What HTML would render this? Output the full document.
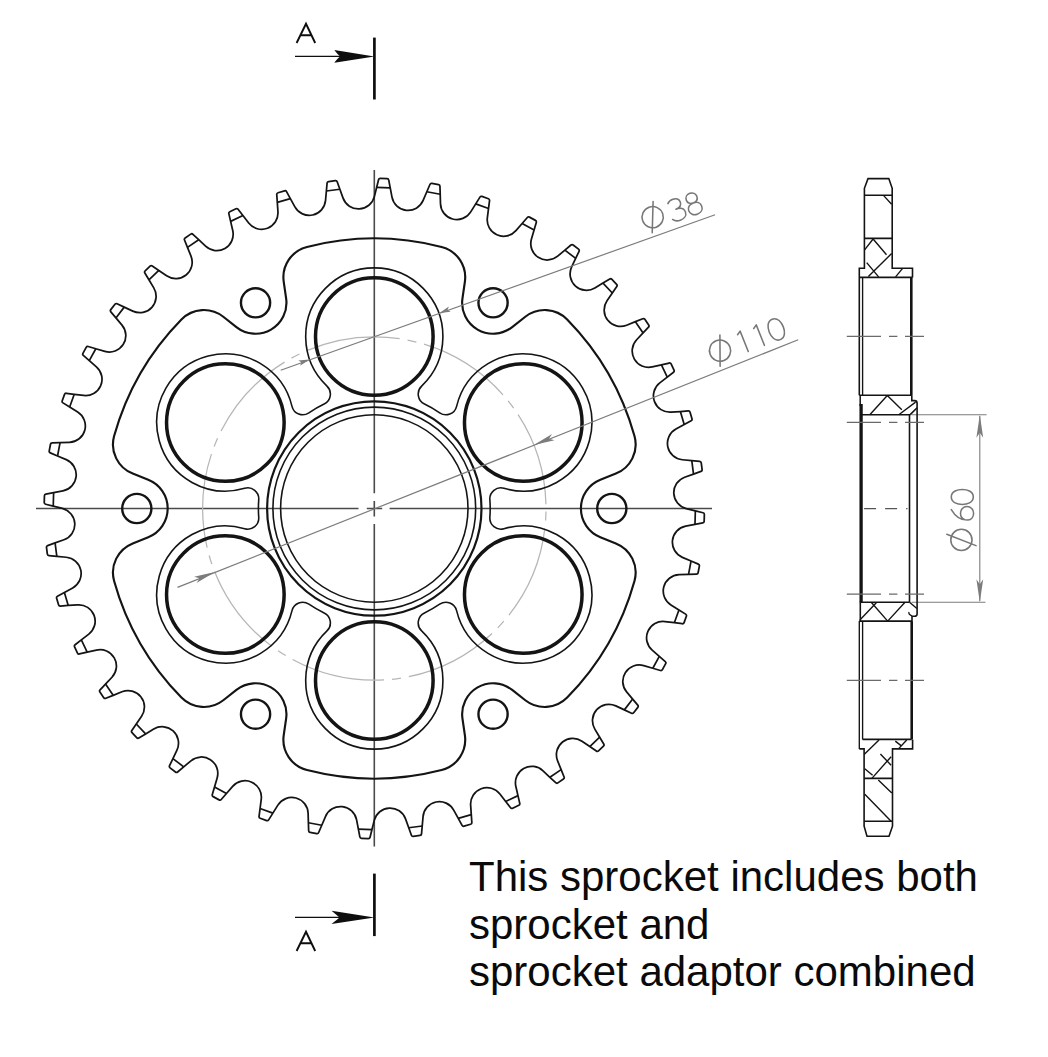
<!DOCTYPE html>
<html><head><meta charset="utf-8">
<style>
html,body{margin:0;padding:0;background:#fff;}
body{width:1048px;height:1057px;overflow:hidden;position:relative;}
svg{position:absolute;left:0;top:0;}
.t{position:absolute;left:469px;font-family:"Liberation Sans",sans-serif;font-size:42px;color:#0a0a0a;white-space:nowrap;line-height:1;}
</style></head>
<body>
<svg width="1048" height="1057" viewBox="0 0 1048 1057">
<path d="M374.3 170 V493.2 M374.3 500.9 V516.6 M374.3 524 V846.4 M36 508.5 H358.5 M366.8 508.5 H382.2 M389.6 508.5 H712" stroke="#4a4a4a" stroke-width="1.6" fill="none"/>
<circle cx="374.3" cy="508.5" r="171.7" stroke="#b6b6b6" stroke-width="1.25" fill="none" stroke-dasharray="94.9 8 9 8" stroke-dashoffset="99.9"/>
<path d="M686.21 508.55L695.36 510.83L703.04 512.75Q704.4 513.09 704.36 514.49L704.17 521.29Q704.13 522.69 702.75 522.95L694.98 524.43L685.7 526.19A16.37 16.37 0 0 0 682.36 557.34L691.05 561.03L698.33 564.13Q699.62 564.67 699.36 566.05L698.11 572.73Q697.85 574.11 696.45 574.15L688.54 574.4L679.1 574.69A16.37 16.37 0 0 0 670.93 604.93L678.93 609.93L685.64 614.13Q686.83 614.87 686.36 616.19L684.07 622.6Q683.6 623.92 682.21 623.74L674.36 622.74L665 621.55A16.37 16.37 0 0 0 652.19 650.14L659.31 656.34L665.28 661.54Q666.34 662.45 665.67 663.68L662.41 669.65Q661.74 670.88 660.4 670.49L652.79 668.28L643.73 665.64A16.37 16.37 0 0 0 626.61 691.87L632.67 699.1L637.76 705.17Q638.66 706.24 637.81 707.35L633.65 712.74Q632.8 713.85 631.53 713.25L624.37 709.88L615.83 705.85A16.37 16.37 0 0 0 594.82 729.08L599.68 737.18L603.75 743.96Q604.47 745.16 603.45 746.13L598.51 750.8Q597.49 751.76 596.34 750.97L589.79 746.52L581.99 741.21A16.37 16.37 0 0 0 557.6 760.86L561.13 769.62L564.09 776.96Q564.61 778.26 563.46 779.05L557.85 782.89Q556.69 783.68 555.67 782.72L549.9 777.3L543.03 770.83A16.37 16.37 0 0 0 515.86 786.43L517.98 795.63L519.76 803.34Q520.07 804.71 518.81 805.31L512.66 808.22Q511.4 808.82 510.54 807.71L505.69 801.46L499.91 793.99A16.37 16.37 0 0 0 470.64 805.15L471.29 814.57L471.84 822.47Q471.94 823.87 470.6 824.26L464.07 826.18Q462.73 826.57 462.06 825.34L458.25 818.4L453.7 810.13A16.37 16.37 0 0 0 423.05 816.57L422.22 825.98L421.53 833.86Q421.4 835.26 420.02 835.44L413.27 836.31Q411.88 836.49 411.41 835.17L408.73 827.72L405.54 818.84A16.37 16.37 0 0 0 374.25 820.41L371.97 829.56L370.05 837.24Q369.71 838.6 368.31 838.56L361.51 838.37Q360.11 838.33 359.85 836.95L358.37 829.18L356.61 819.9A16.37 16.37 0 0 0 325.46 816.56L321.77 825.25L318.67 832.53Q318.13 833.82 316.75 833.56L310.07 832.31Q308.69 832.05 308.65 830.65L308.4 822.74L308.11 813.3A16.37 16.37 0 0 0 277.87 805.13L272.87 813.13L268.67 819.84Q267.93 821.03 266.61 820.56L260.2 818.27Q258.88 817.8 259.06 816.41L260.06 808.56L261.25 799.2A16.37 16.37 0 0 0 232.66 786.39L226.46 793.51L221.26 799.48Q220.35 800.54 219.12 799.87L213.15 796.61Q211.92 795.94 212.31 794.6L214.52 786.99L217.16 777.93A16.37 16.37 0 0 0 190.93 760.81L183.7 766.87L177.63 771.96Q176.56 772.86 175.45 772.01L170.06 767.85Q168.95 767 169.55 765.73L172.92 758.57L176.95 750.03A16.37 16.37 0 0 0 153.72 729.02L145.62 733.88L138.84 737.95Q137.64 738.67 136.67 737.65L132 732.71Q131.04 731.69 131.83 730.54L136.28 723.99L141.59 716.19A16.37 16.37 0 0 0 121.94 691.8L113.18 695.33L105.84 698.29Q104.54 698.81 103.75 697.66L99.91 692.05Q99.12 690.89 100.08 689.87L105.5 684.1L111.97 677.23A16.37 16.37 0 0 0 96.37 650.06L87.17 652.18L79.46 653.96Q78.09 654.27 77.49 653.01L74.58 646.86Q73.98 645.6 75.09 644.74L81.34 639.89L88.81 634.11A16.37 16.37 0 0 0 77.65 604.84L68.23 605.49L60.33 606.04Q58.93 606.14 58.54 604.8L56.62 598.27Q56.23 596.93 57.46 596.26L64.4 592.45L72.67 587.9A16.37 16.37 0 0 0 66.23 557.25L56.82 556.42L48.94 555.73Q47.54 555.6 47.36 554.22L46.49 547.47Q46.31 546.08 47.63 545.61L55.08 542.93L63.96 539.74A16.37 16.37 0 0 0 62.39 508.45L53.24 506.17L45.56 504.25Q44.2 503.91 44.24 502.51L44.43 495.71Q44.47 494.31 45.85 494.05L53.62 492.57L62.9 490.81A16.37 16.37 0 0 0 66.24 459.66L57.55 455.97L50.27 452.87Q48.98 452.33 49.24 450.95L50.49 444.27Q50.75 442.89 52.15 442.85L60.06 442.6L69.5 442.31A16.37 16.37 0 0 0 77.67 412.07L69.67 407.07L62.96 402.87Q61.77 402.13 62.24 400.81L64.53 394.4Q65 393.08 66.39 393.26L74.24 394.26L83.6 395.45A16.37 16.37 0 0 0 96.41 366.86L89.29 360.66L83.32 355.46Q82.26 354.55 82.93 353.32L86.19 347.35Q86.86 346.12 88.2 346.51L95.81 348.72L104.87 351.36A16.37 16.37 0 0 0 121.99 325.13L115.93 317.9L110.84 311.83Q109.94 310.76 110.79 309.65L114.95 304.26Q115.8 303.15 117.07 303.75L124.23 307.12L132.77 311.15A16.37 16.37 0 0 0 153.78 287.92L148.92 279.82L144.85 273.04Q144.13 271.84 145.15 270.87L150.09 266.2Q151.11 265.24 152.26 266.03L158.81 270.48L166.61 275.79A16.37 16.37 0 0 0 191 256.14L187.47 247.38L184.51 240.04Q183.99 238.74 185.14 237.95L190.75 234.11Q191.91 233.32 192.93 234.28L198.7 239.7L205.57 246.17A16.37 16.37 0 0 0 232.74 230.57L230.62 221.37L228.84 213.66Q228.53 212.29 229.79 211.69L235.94 208.78Q237.2 208.18 238.06 209.29L242.91 215.54L248.69 223.01A16.37 16.37 0 0 0 277.96 211.85L277.31 202.43L276.76 194.53Q276.66 193.13 278 192.74L284.53 190.82Q285.87 190.43 286.54 191.66L290.35 198.6L294.9 206.87A16.37 16.37 0 0 0 325.55 200.43L326.38 191.02L327.07 183.14Q327.2 181.74 328.58 181.56L335.33 180.69Q336.72 180.51 337.19 181.83L339.87 189.28L343.06 198.16A16.37 16.37 0 0 0 374.35 196.59L376.63 187.44L378.55 179.76Q378.89 178.4 380.29 178.44L387.09 178.63Q388.49 178.67 388.75 180.05L390.23 187.82L391.99 197.1A16.37 16.37 0 0 0 423.14 200.44L426.83 191.75L429.93 184.47Q430.47 183.18 431.85 183.44L438.53 184.69Q439.91 184.95 439.95 186.35L440.2 194.26L440.49 203.7A16.37 16.37 0 0 0 470.73 211.87L475.73 203.87L479.93 197.16Q480.67 195.97 481.99 196.44L488.4 198.73Q489.72 199.2 489.54 200.59L488.54 208.44L487.35 217.8A16.37 16.37 0 0 0 515.94 230.61L522.14 223.49L527.34 217.52Q528.25 216.46 529.48 217.13L535.45 220.39Q536.68 221.06 536.29 222.4L534.08 230.01L531.44 239.07A16.37 16.37 0 0 0 557.67 256.19L564.9 250.13L570.97 245.04Q572.04 244.14 573.15 244.99L578.54 249.15Q579.65 250 579.05 251.27L575.68 258.43L571.65 266.97A16.37 16.37 0 0 0 594.88 287.98L602.98 283.12L609.76 279.05Q610.96 278.33 611.93 279.35L616.6 284.29Q617.56 285.31 616.77 286.46L612.32 293.01L607.01 300.81A16.37 16.37 0 0 0 626.66 325.2L635.42 321.67L642.76 318.71Q644.06 318.19 644.85 319.34L648.69 324.95Q649.48 326.11 648.52 327.13L643.1 332.9L636.63 339.77A16.37 16.37 0 0 0 652.23 366.94L661.43 364.82L669.14 363.04Q670.51 362.73 671.11 363.99L674.02 370.14Q674.62 371.4 673.51 372.26L667.26 377.11L659.79 382.89A16.37 16.37 0 0 0 670.95 412.16L680.37 411.51L688.27 410.96Q689.67 410.86 690.06 412.2L691.98 418.73Q692.37 420.07 691.14 420.74L684.2 424.55L675.93 429.1A16.37 16.37 0 0 0 682.37 459.75L691.78 460.58L699.66 461.27Q701.06 461.4 701.24 462.78L702.11 469.53Q702.29 470.92 700.97 471.39L693.52 474.07L684.64 477.26A16.37 16.37 0 0 0 686.21 508.55 Z" stroke="#141414" stroke-width="1.75" fill="none" stroke-linejoin="round"/>
<path d="M695.36 510.83L694.98 524.43M691.05 561.03L688.54 574.4M678.93 609.93L674.36 622.74M659.31 656.34L652.79 668.28M632.67 699.1L624.37 709.88M599.68 737.18L589.79 746.52M561.13 769.62L549.9 777.3M517.98 795.63L505.69 801.46M471.29 814.57L458.25 818.4M422.22 825.98L408.73 827.72M371.97 829.56L358.37 829.18M321.77 825.25L308.4 822.74M272.87 813.13L260.06 808.56M226.46 793.51L214.52 786.99M183.7 766.87L172.92 758.57M145.62 733.88L136.28 723.99M113.18 695.33L105.5 684.1M87.17 652.18L81.34 639.89M68.23 605.49L64.4 592.45M56.82 556.42L55.08 542.93M53.24 506.17L53.62 492.57M57.55 455.97L60.06 442.6M69.67 407.07L74.24 394.26M89.29 360.66L95.81 348.72M115.93 317.9L124.23 307.12M148.92 279.82L158.81 270.48M187.47 247.38L198.7 239.7M230.62 221.37L242.91 215.54M277.31 202.43L290.35 198.6M326.38 191.02L339.87 189.28M376.63 187.44L390.23 187.82M426.83 191.75L440.2 194.26M475.73 203.87L488.54 208.44M522.14 223.49L534.08 230.01M564.9 250.13L575.68 258.43M602.98 283.12L612.32 293.01M635.42 321.67L643.1 332.9M661.43 364.82L667.26 377.11M680.37 411.51L684.2 424.55M691.78 460.58L693.52 474.07" stroke="#141414" stroke-width="1.7" fill="none"/>
<path d="M600.36 537.2L615.87 543.39A31.4 31.4 0 0 1 634.49 580.98A270.1 270.1 0 0 1 567.17 697.59A31.4 31.4 0 0 1 525.3 700.26L512.19 689.92A30.9 30.9 0 0 0 462.47 718.63L464.87 735.15A31.4 31.4 0 0 1 441.63 770.07A270.1 270.1 0 0 1 306.97 770.07A31.4 31.4 0 0 1 283.73 735.15L286.13 718.63A30.9 30.9 0 0 0 236.41 689.92L223.3 700.26A31.4 31.4 0 0 1 181.43 697.59A270.1 270.1 0 0 1 114.11 580.98A31.4 31.4 0 0 1 132.73 543.39L148.24 537.2A30.9 30.9 0 0 0 148.24 479.8L132.73 473.61A31.4 31.4 0 0 1 114.11 436.02A270.1 270.1 0 0 1 181.43 319.41A31.4 31.4 0 0 1 223.3 316.74L236.41 327.08A30.9 30.9 0 0 0 286.13 298.37L283.73 281.85A31.4 31.4 0 0 1 306.97 246.93A270.1 270.1 0 0 1 441.63 246.93A31.4 31.4 0 0 1 464.87 281.85L462.47 298.37A30.9 30.9 0 0 0 512.19 327.08L525.3 316.74A31.4 31.4 0 0 1 567.17 319.41A270.1 270.1 0 0 1 634.49 436.02A31.4 31.4 0 0 1 615.87 473.61L600.36 479.8A30.9 30.9 0 0 0 600.36 537.2 Z" stroke="#141414" stroke-width="2.15" fill="none"/>
<circle cx="611.8" cy="508.5" r="14.6" stroke="#141414" stroke-width="2.4" fill="none"/>
<circle cx="493.05" cy="714.18" r="14.6" stroke="#141414" stroke-width="2.4" fill="none"/>
<circle cx="255.55" cy="714.18" r="14.6" stroke="#141414" stroke-width="2.4" fill="none"/>
<circle cx="136.8" cy="508.5" r="14.6" stroke="#141414" stroke-width="2.4" fill="none"/>
<circle cx="255.55" cy="302.82" r="14.6" stroke="#141414" stroke-width="2.4" fill="none"/>
<circle cx="493.05" cy="302.82" r="14.6" stroke="#141414" stroke-width="2.4" fill="none"/>
<path d="M489.87 517.29A11 11 0 0 0 503.93 528.68A68.6 68.6 0 1 1 456.59 610.68A11 11 0 0 0 439.69 604.19A115.9 115.9 0 0 1 424.47 612.98A11 11 0 0 0 421.64 630.85A68.6 68.6 0 1 1 326.96 630.85A11 11 0 0 0 324.13 612.98A115.9 115.9 0 0 1 308.91 604.19A11 11 0 0 0 292.01 610.68A68.6 68.6 0 1 1 244.67 528.68A11 11 0 0 0 258.73 517.29A115.9 115.9 0 0 1 258.73 499.71A11 11 0 0 0 244.67 488.32A68.6 68.6 0 1 1 292.01 406.32A11 11 0 0 0 308.91 412.81A115.9 115.9 0 0 1 324.13 404.02A11 11 0 0 0 326.96 386.15A68.6 68.6 0 1 1 421.64 386.15A11 11 0 0 0 424.47 404.02A115.9 115.9 0 0 1 439.69 412.81A11 11 0 0 0 456.59 406.32A68.6 68.6 0 1 1 503.93 488.32A11 11 0 0 0 489.87 499.71A115.9 115.9 0 0 1 489.87 517.29 Z" stroke="#141414" stroke-width="1.6" fill="none"/>
<circle cx="523.26" cy="594.5" r="58.8" stroke="#141414" stroke-width="3.5" fill="none"/>
<circle cx="374.3" cy="680.5" r="58.8" stroke="#141414" stroke-width="3.5" fill="none"/>
<circle cx="225.34" cy="594.5" r="58.8" stroke="#141414" stroke-width="3.5" fill="none"/>
<circle cx="225.34" cy="422.5" r="58.8" stroke="#141414" stroke-width="3.5" fill="none"/>
<circle cx="374.3" cy="336.5" r="58.8" stroke="#141414" stroke-width="3.5" fill="none"/>
<circle cx="523.26" cy="422.5" r="58.8" stroke="#141414" stroke-width="3.5" fill="none"/>
<circle cx="374.3" cy="508.5" r="107.2" stroke="#141414" stroke-width="2.2" fill="none"/>
<circle cx="374.3" cy="508.5" r="101.4" stroke="#141414" stroke-width="1.6" fill="none"/>
<circle cx="374.3" cy="508.5" r="93.7" stroke="#141414" stroke-width="1.6" fill="none"/>
<path d="M280.7 370.2L715.1 214.7" stroke="#7c7c7c" stroke-width="1.2" fill="none"/>
<path d="M309.54 359.46L300.13 365.8L301.46 362.35L298.24 360.53Z" fill="#7c7c7c"/>
<path d="M439.46 312.94L448.87 306.6L447.54 310.05L450.76 311.87Z" fill="#7c7c7c"/>
<path d="M177.5 587.4L798.2 339.8" stroke="#7c7c7c" stroke-width="1.2" fill="none"/>
<path d="M214.82 572.12L196.54 582.97L199.61 578.19L194.1 576.84Z" fill="#7c7c7c"/>
<path d="M533.78 444.88L552.06 434.03L548.99 438.81L554.5 440.16Z" fill="#7c7c7c"/>
<g transform="translate(374.5 336.2) rotate(-19.7)" stroke="#777777" stroke-width="1.55" fill="none" stroke-linecap="round" stroke-linejoin="round"><circle cx="302" cy="-18.3" r="10.6"/><path d="M307.7 -32.9 L296.3 -3.7"/><path transform="translate(319.1 -6.4)" d="M1.8 -19.5 C3.5 -21.5 5.5 -22 8 -22 C11.5 -22 14 -20 14 -16.8 C14 -13.5 11.5 -11.6 7.5 -11.6 C12.5 -11.6 15.5 -9.5 15.5 -5.7 C15.5 -2 12.2 0.3 8 0.3 C4.8 0.3 2.3 -1 0.9 -3"/><path transform="translate(336.8 -6.2)" d="M8.2 -11.8 C4.6 -11.8 2.6 -13.8 2.6 -16.8 C2.6 -19.9 5 -22 8.2 -22 C11.4 -22 13.8 -19.9 13.8 -16.8 C13.8 -13.8 11.8 -11.8 8.2 -11.8 C4 -11.8 1.3 -9.4 1.3 -5.9 C1.3 -2.3 4.2 0.2 8.2 0.2 C12.2 0.2 15.1 -2.3 15.1 -5.9 C15.1 -9.4 12.4 -11.8 8.2 -11.8 Z"/></g>
<g transform="translate(374.3 508.5) rotate(-21.75)" stroke="#777777" stroke-width="1.55" fill="none" stroke-linecap="round" stroke-linejoin="round"><circle cx="379.6" cy="-18.5" r="10.6"/><path d="M385.3 -33.1 L373.9 -3.9"/><path transform="translate(396.2 -7.2)" d="M5.6 -19.6 L9.3 -22 L9.3 0"/><path transform="translate(413.5 -7)" d="M5.6 -19.6 L9.3 -22 L9.3 0"/><path transform="translate(431.4 -6.4)" d="M8.3 -22 C2.5 -22 0.8 -15.5 0.8 -11 C0.8 -6.5 2.5 0 8.3 0 C14.1 0 15.8 -6.5 15.8 -11 C15.8 -15.5 14.1 -22 8.3 -22 Z"/></g>
<path d="M911.5 414.8L986.6 414.8M911.5 602.3L985.5 602.3M979.8 416L979.8 601" stroke="#7c7c7c" stroke-width="1.1" fill="none"/>
<path d="M979.8 414.8L983.2 437.8L979.8 432.74L976.4 437.8Z" fill="#7c7c7c"/>
<path d="M979.8 602.3L976.4 579.3L979.8 584.36L983.2 579.3Z" fill="#7c7c7c"/>
<g transform="translate(979.8 0) rotate(-90)" stroke="#777777" stroke-width="1.55" fill="none" stroke-linecap="round" stroke-linejoin="round"><circle cx="-539.9" cy="-18.4" r="10.6"/><path d="M-534.2 -33 L-545.6 -3.8"/><path transform="translate(-521.6 -6.5)" d="M12 -22 C6 -18.5 1.5 -12.5 1.5 -6.3 C1.5 -2.2 4.5 0.3 8.3 0.3 C12.2 0.3 15.1 -2.5 15.1 -6.3 C15.1 -10.1 12.2 -12.8 8.3 -12.8 C5.5 -12.8 3 -11.3 1.9 -8.5"/><path transform="translate(-505.2 -6.5)" d="M8.3 -22 C2.5 -22 0.8 -15.5 0.8 -11 C0.8 -6.5 2.5 0 8.3 0 C14.1 0 15.8 -6.5 15.8 -11 C15.8 -15.5 14.1 -22 8.3 -22 Z"/></g>
<path d="M859.3 395.3 L859.3 268.3 L864.4 268.3 L864.4 188.3 L868 178.6 L888.8 178.6 L892.2 188.3 L892.2 268.3 L912.5 268.3 L912.5 277.4" stroke="#141414" stroke-width="1.6" fill="none"/>
<path d="M864.4 195.3L892.2 195.3M864.4 238.4L892.2 238.4M859.3 277.4L912.5 277.4" stroke="#141414" stroke-width="1.6" fill="none"/>
<path d="M883.7 195.6L891.6 204.2M872.9 238.8L886.5 254.7M864.4 250.1L872.9 239.2M891.6 253.5L868.4 276.6M866.7 262.6L878.6 276.9M902.4 268.6L895.6 276.9" stroke="#141414" stroke-width="1.4" fill="none"/>
<path d="M862.6 277.4L862.6 395.3" stroke="#141414" stroke-width="1.35" fill="none"/>
<path d="M911.3 277.4L911.3 395.3" stroke="#141414" stroke-width="2.6" fill="none"/>
<path d="M859.3 395.3L911.8 395.3" stroke="#141414" stroke-width="1.6" fill="none"/>
<path d="M911.8 395.3 V400.6 H914.6 Q917.1 400.6 917.1 403.2 V614.2 Q916.9 616.3 914.8 616.3 H912 V621.1" stroke="#141414" stroke-width="1.6" fill="none"/>
<path d="M860.2 414.8L910.2 414.8M910.2 414.6L917.1 407.8" stroke="#141414" stroke-width="1.6" fill="none"/>
<path d="M869.8 414.8L887.3 395.5M887.3 395.5L901.8 409.8M898.8 414.8L915.6 402.1" stroke="#141414" stroke-width="1.4" fill="none"/>
<path d="M860.2 395.3L860.2 406" stroke="#141414" stroke-width="1.5" fill="none"/>
<path d="M861.1 404L861.1 602.3" stroke="#141414" stroke-width="3.3" fill="none"/>
<path d="M909.5 414.8L909.5 602.3" stroke="#141414" stroke-width="1.6" fill="none"/>
<path d="M860.5 602.3L909.5 602.3M859.3 621.1L912 621.1" stroke="#141414" stroke-width="1.6" fill="none"/>
<path d="M864.1 508.6L907.5 508.6" stroke="#555" stroke-width="1.3" fill="none" stroke-dasharray="12 9"/>
<path d="M859.9 619.9L876.3 602.8M871.2 602.3L887.7 621.1M887.7 621.1L905 602.3M909.5 602.3L916.9 608.5" stroke="#141414" stroke-width="1.4" fill="none"/>
<path d="M912 616 Q908 614 909 612" stroke="#141414" stroke-width="1.3" fill="none"/>
<path d="M859.3 621.1L859.3 748.9M862.6 621.1L862.6 739.4" stroke="#141414" stroke-width="1.35" fill="none"/>
<path d="M860.3 601.5L860.3 621.1" stroke="#141414" stroke-width="1.6" fill="none"/>
<path d="M911.7 621.1L911.7 739.4" stroke="#141414" stroke-width="2.6" fill="none"/>
<path d="M862.6 739.4L911.7 739.4" stroke="#141414" stroke-width="1.6" fill="none"/>
<path d="M859.3 748.9 L864.1 748.9 L864.1 826.2 L867 836.2 L889 836.2 L892.5 826.2 L892.5 748.9 L912.6 748.9 L912.6 739.4" stroke="#141414" stroke-width="1.6" fill="none"/>
<path d="M864.1 778.4L892.5 778.4M864.1 821.3L892.5 821.3" stroke="#141414" stroke-width="1.6" fill="none"/>
<path d="M864.1 754.6L879 740M895.3 741.1L901.7 746.1M906.7 740L898.5 748.9M880.4 753.9L891.1 765.2M891.1 756.7L871.9 778.4M864.8 768.8L872.6 775.2M878.3 780.1L891.8 792.9M864.8 794.3L891.1 821.3" stroke="#141414" stroke-width="1.4" fill="none"/>
<path d="M846.8 336.4L881 336.4M889 336.4L897.4 336.4M905 336.4L924 336.4" stroke="#6a6a6a" stroke-width="1.3" fill="none"/>
<path d="M846.8 422.4L881 422.4M889 422.4L897.4 422.4M905 422.4L924 422.4" stroke="#6a6a6a" stroke-width="1.3" fill="none"/>
<path d="M846.8 594.1L881 594.1M889 594.1L897.4 594.1M905 594.1L924 594.1" stroke="#6a6a6a" stroke-width="1.3" fill="none"/>
<path d="M846.8 680.4L881 680.4M889 680.4L897.4 680.4M905 680.4L924 680.4" stroke="#6a6a6a" stroke-width="1.3" fill="none"/>
<path d="M374.4 37.6L374.4 99.5" stroke="#0e0e0e" stroke-width="2.7" fill="none"/>
<path d="M295 56.4L360 56.4" stroke="#0e0e0e" stroke-width="1.2" fill="none"/>
<path d="M374.4 56.4 L334.3 50.1 Q338 54.9 340 56.4 L340 56.4 Q338 57.9 334.3 62.7 Z" fill="#0e0e0e"/>
<path d="M296.6 43 L306 23.8 L315.2 43 M300.4 35.2 L311.4 35.2" stroke="#0e0e0e" stroke-width="1.9" fill="none" stroke-linejoin="miter"/>
<path d="M374.4 873.6L374.4 936.1" stroke="#0e0e0e" stroke-width="2.7" fill="none"/>
<path d="M295 917.4L360 917.4" stroke="#0e0e0e" stroke-width="1.2" fill="none"/>
<path d="M374.4 917.4 L331.5 910.8 Q337.6 915.9 339.6 917.4 L339.6 917.4 Q337.6 918.9 331.5 924 Z" fill="#0e0e0e"/>
<path d="M296.6 951 L306 931.8 L315.2 951 M300.4 943.2 L311.4 943.2" stroke="#0e0e0e" stroke-width="1.9" fill="none" stroke-linejoin="miter"/>
</svg>
<div class="t" style="top:856.3px">This sprocket includes both</div>
<div class="t" style="top:904.2px">sprocket and</div>
<div class="t" style="top:951.1px">sprocket adaptor combined</div>
</body></html>
